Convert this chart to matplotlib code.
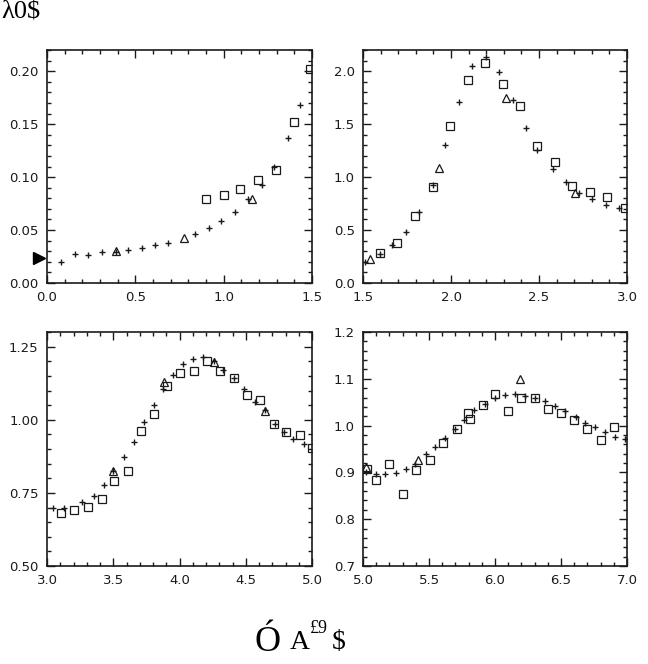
import matplotlib
matplotlib.use("Agg")
import matplotlib.pyplot as plt
from matplotlib.ticker import MultipleLocator

# panel 1: 0 - 1.5
p1_plus_x = [0.08, 0.16, 0.23, 0.31, 0.39, 0.46, 0.54, 0.61, 0.685, 0.84, 0.915, 0.987,
             1.062, 1.14, 1.217, 1.287, 1.362, 1.434]
p1_plus_y = [0.020, 0.0276, 0.0266, 0.0288, 0.0295, 0.0313, 0.0332, 0.036, 0.038, 0.0458,
             0.0517, 0.0583, 0.0674, 0.079, 0.0925, 0.110, 0.137, 0.168]
p1_sq_x = [0.90, 1.0, 1.094, 1.194, 1.298, 1.396, 1.49]
p1_sq_y = [0.079, 0.0828, 0.0884, 0.0972, 0.1066, 0.152, 0.2016]
p1_tri_x = [0.39, 0.774, 1.16]
p1_tri_y = [0.0298, 0.0423, 0.0793]
p1_arrow_y = 0.024

# panel 2: 1.5 - 3.0
p2_plus_x = [1.51, 1.595, 1.667, 1.743, 1.82, 1.895, 1.967, 2.047, 2.122, 2.198, 2.27,
             2.35, 2.424, 2.49, 2.578, 2.652, 2.73, 2.80, 2.88, 2.957]
p2_plus_y = [0.20, 0.276, 0.36, 0.486, 0.668, 0.925, 1.30, 1.708, 2.053, 2.13, 1.99,
             1.73, 1.467, 1.254, 1.075, 0.95, 0.853, 0.79, 0.737, 0.705]
p2_sq_x = [1.595, 1.695, 1.798, 1.895, 1.997, 2.098, 2.193, 2.293, 2.392, 2.49, 2.59,
           2.69, 2.79, 2.889, 2.99]
p2_sq_y = [0.282, 0.382, 0.636, 0.903, 1.483, 1.918, 2.075, 1.88, 1.668, 1.29, 1.144,
           0.915, 0.859, 0.815, 0.705]
p2_tri_x = [1.542, 1.93, 2.31, 2.705]
p2_tri_y = [0.229, 1.09, 1.75, 0.846]

# panel 3: 3.0 - 5.0
p3_plus_x = [3.043, 3.13, 3.264, 3.352, 3.43, 3.50, 3.579, 3.654, 3.73, 3.805, 3.875,
             3.95, 4.025, 4.10, 4.178, 4.258, 4.328, 4.41, 4.49, 4.572, 4.648, 4.723,
             4.79, 4.857, 4.937]
p3_plus_y = [0.70, 0.697, 0.719, 0.741, 0.777, 0.825, 0.873, 0.924, 0.992, 1.049, 1.106,
             1.153, 1.189, 1.208, 1.214, 1.20, 1.17, 1.143, 1.106, 1.06, 1.032, 0.986,
             0.958, 0.934, 0.916]
p3_sq_x = [3.108, 3.206, 3.31, 3.415, 3.508, 3.609, 3.71, 3.81, 3.906, 4.006, 4.107,
           4.208, 4.308, 4.41, 4.51, 4.61, 4.71, 4.806, 4.907, 5.0]
p3_sq_y = [0.682, 0.693, 0.701, 0.728, 0.791, 0.825, 0.961, 1.018, 1.116, 1.160, 1.168,
           1.20, 1.168, 1.143, 1.083, 1.069, 0.986, 0.958, 0.948, 0.903]
p3_tri_x = [3.50, 3.88, 4.258, 4.648]
p3_tri_y = [0.825, 1.128, 1.196, 1.030]

# panel 4: 5.0 - 7.0
p4_plus_x = [5.025, 5.096, 5.165, 5.248, 5.329, 5.392, 5.476, 5.544, 5.62, 5.696, 5.765,
             5.84, 5.924, 6.0, 6.076, 6.15, 6.23, 6.30, 6.38, 6.456, 6.53, 6.615, 6.684,
             6.76, 6.835, 6.91, 6.987]
p4_plus_y = [0.901, 0.896, 0.896, 0.898, 0.907, 0.918, 0.939, 0.955, 0.974, 0.992, 1.011,
             1.033, 1.047, 1.059, 1.065, 1.067, 1.064, 1.06, 1.052, 1.042, 1.031, 1.019,
             1.006, 0.996, 0.987, 0.976, 0.972]
p4_sq_x = [5.033, 5.10, 5.20, 5.304, 5.405, 5.506, 5.608, 5.709, 5.797, 5.81, 5.906, 6.0,
           6.10, 6.20, 6.30, 6.40, 6.50, 6.60, 6.70, 6.80, 6.90]
p4_sq_y = [0.908, 0.883, 0.919, 0.853, 0.906, 0.926, 0.962, 0.992, 1.026, 1.014, 1.044,
           1.067, 1.031, 1.058, 1.06, 1.035, 1.026, 1.011, 0.992, 0.969, 0.996]
p4_tri_x = [5.025, 5.42, 6.19]
p4_tri_y = [0.912, 0.926, 1.099]

panels = [
    # (rect in px: left, top, right, bottom), xlim, ylim, x major, y major, y minor, y fmt
    ((47, 50, 312, 283), (0, 1.5), (0, 0.22), 0.5, 0.05, 0.01, "{:.2f}",
     p1_plus_x, p1_plus_y, p1_sq_x, p1_sq_y, p1_tri_x, p1_tri_y),
    ((363, 50, 627, 283), (1.5, 3.0), (0, 2.2), 0.5, 0.5, 0.1, "{:.1f}",
     p2_plus_x, p2_plus_y, p2_sq_x, p2_sq_y, p2_tri_x, p2_tri_y),
    ((47, 332, 312, 566), (3.0, 5.0), (0.5, 1.3), 0.5, 0.25, 0.05, "{:.2f}",
     p3_plus_x, p3_plus_y, p3_sq_x, p3_sq_y, p3_tri_x, p3_tri_y),
    ((363, 332, 627, 566), (5.0, 7.0), (0.7, 1.2), 0.5, 0.1, 0.02, "{:.1f}",
     p4_plus_x, p4_plus_y, p4_sq_x, p4_sq_y, p4_tri_x, p4_tri_y),
]

W, H = 648, 664
fig = plt.figure(figsize=(W / 100, H / 100), dpi=100)
ink = "#1a1a1a"

axes = []
for (rect, xlim, ylim, xmaj, ymaj, ymin, yfmt,
     px, py, sx, sy, tx, ty) in panels:
    l, t, r, b = rect
    ax = fig.add_axes([l / W, 1 - b / H, (r - l) / W, (b - t) / H])
    ax.plot(px, py, "+", color=ink, ms=5, mew=1.0)
    ax.plot(sx, sy, "s", mfc="none", mec=ink, ms=5.6, mew=0.9)
    ax.plot(tx, ty, "^", mfc="none", mec=ink, ms=6.2, mew=0.9)
    ax.set_xlim(*xlim)
    ax.set_ylim(*ylim)
    ax.xaxis.set_major_locator(MultipleLocator(xmaj))
    ax.xaxis.set_minor_locator(MultipleLocator(0.1))
    ax.yaxis.set_major_locator(MultipleLocator(ymaj))
    ax.yaxis.set_minor_locator(MultipleLocator(ymin))
    ax.yaxis.set_major_formatter(plt.FuncFormatter(lambda v, p, f=yfmt: f.format(v)))
    ax.xaxis.set_major_formatter(plt.FuncFormatter(lambda v, p: f"{v:.1f}"))
    ax.tick_params(which="both", direction="in", top=True, right=True, colors=ink,
                   labelsize=9.5, width=1.0)
    ax.tick_params(which="major", length=6, pad=6)
    ax.tick_params(which="minor", length=3)
    for s in ax.spines.values():
        s.set_linewidth(1.2)
        s.set_color(ink)
    axes.append(ax)

# arrow marker on the left of the first panel
axes[0].plot([-0.045], [p1_arrow_y], ">", color="black", ms=9, clip_on=False)

# garbled header / footer text from the source image
fig.text(0.002, 0.998, "λ0$", fontsize=19, family="Liberation Serif", va="top", ha="left")
fig.text(0.393, 0.008, "Ó", fontsize=26, family="Liberation Serif", va="bottom")
fig.text(0.447, 0.014, "A", fontsize=20, family="Liberation Serif", va="bottom")
fig.text(0.478, 0.040, "£9", fontsize=13, family="Liberation Serif", va="bottom")
fig.text(0.512, 0.014, "$", fontsize=20, family="Liberation Serif", va="bottom")

fig.savefig("out.png", dpi=100)
